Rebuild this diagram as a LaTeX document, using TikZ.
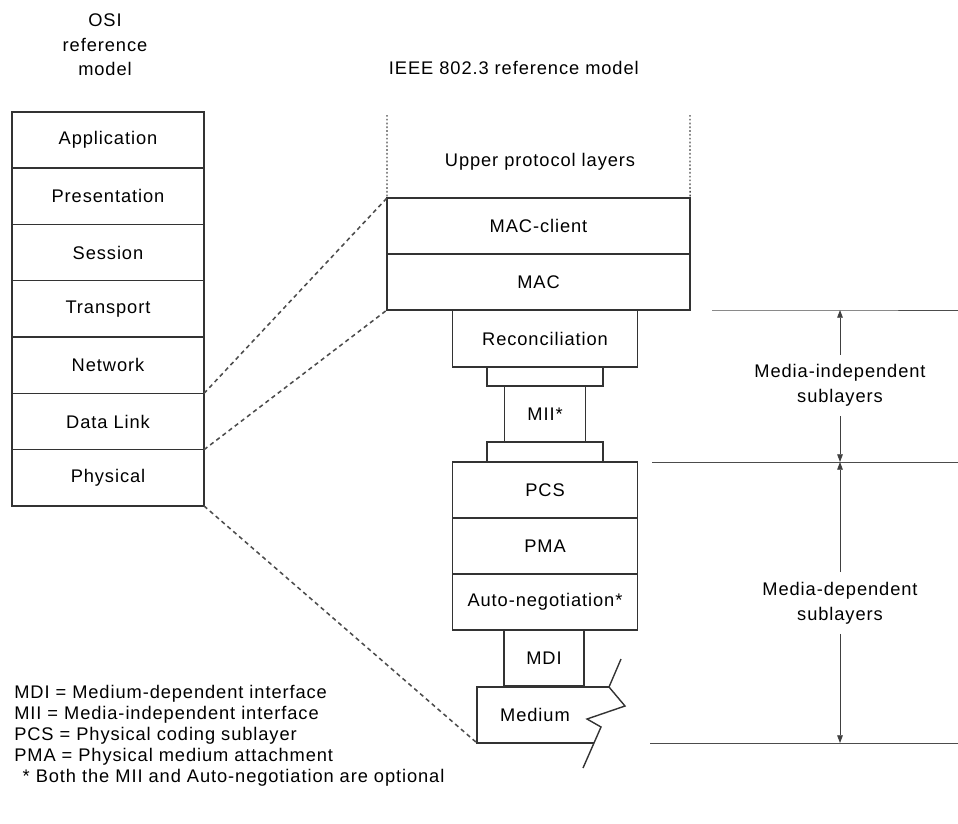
\documentclass[tikz,border=0pt]{standalone}
\usepackage{fontspec}
\setmainfont{Liberation Sans}[LetterSpace=5]
\usetikzlibrary{arrows.meta}

\tikzset{
  box/.style={draw=black!80, line width=1pt, inner sep=0pt, outer sep=0pt, minimum height=1.4cm},
  osi/.style={box, minimum width=4.8cm, minimum height=1.4075cm},
  wide/.style={box, minimum width=7.575cm},
  sub/.style={box, minimum width=4.625cm},
  thin/.style={box, minimum width=2cm},
  link/.style={box, minimum width=2.9cm, minimum height=0.49cm},
  map/.style={black!70, line width=1.1pt, dash pattern=on 3pt off 2.5pt},
  dots/.style={black!70, line width=1pt, dash pattern=on 1.2pt off 1.5pt},
  rule/.style={black!70, line width=0.6pt},
  arr/.style={black!75, line width=0.6pt, -{Triangle[length=5.5pt,width=4pt]}},
  lbl/.style={align=center, inner sep=7pt},
}

\begin{document}
\begin{tikzpicture}[x=0.025cm, y=-0.025cm, font=\fontsize{13}{17.5}\selectfont]
\useasboundingbox (0,0) rectangle (958,823);

% OSI model
\node[align=center] (osititle) at (105,45) {OSI\\reference\\model};
\node[osi] (app) at (108,140) {Application};
\node[osi] (pres) at (108,196.3) {Presentation};
\node[osi] (sess) at (108,252.6) {Session};
\node[osi] (trans) at (108,308.9) {Transport};
\node[osi] (net) at (108,365.2) {Network};
\node[osi] (dl) at (108,421.5) {Data Link};
\node[osi] (phys) at (108,477.8) {Physical};

% IEEE 802.3 model
\node[anchor=west] (ieeetitle) at (384,68) {IEEE 802.3 reference model};
\node (upper) at (540,162) {Upper protocol layers};
\node[wide] (macc) at (538.5,226) {MAC-client};
\node[wide] (mac) at (538.5,282) {MAC};
\coordinate (upl) at (387,115); % open top of upper layers
\coordinate (upr) at (690,115);
\draw[dots] (upl) -- (macc.north west);
\draw[dots] (upr) -- (macc.north east);

\node[sub, minimum height=1.425cm] (rec) at (545,338.5) {Reconciliation};
\node[link, minimum height=0.475cm] (linka) at (545,376.5) {}; % MII connector - top
\node[thin, minimum width=2.025cm] (mii) at (545,414) {MII*};
\node[link, minimum height=0.5cm] (linkb) at (545,452) {}; % MII connector - bottom
\node[sub] (pcs) at (545,490) {PCS};
\node[sub] (pma) at (545,546) {PMA};
\node[sub] (auto) at (545,602) {Auto-negotiation*};
\node[thin] (mdi) at (544,658) {MDI};

% Medium with broken right edge
\node (med) at (535,715) {Medium};
\coordinate (medtl) at (477,687);
\coordinate (medbl) at (477,743);
\draw[draw=black!80, line width=1pt] (609,687) -- (medtl) -- (medbl) -- (594,743);
\draw[draw=black!80, line width=1pt] (621,659) -- (609,687) -- (625,706) -- (587,719) -- (601,727) -- (583,768);

% OSI to IEEE mapping
\draw[map] (net.south east) -- (macc.north west);
\draw[map] (dl.south east) -- (mac.south west);
\draw[map] (phys.south east) -- (medbl);

% sublayer ranges
\coordinate (itop) at (840,310);
\coordinate (imid) at (840,462);
\coordinate (dbot) at (840,743);
\draw[rule] (712,310) -- (itop) -- (958,310);
\draw[rule] (652,462) -- (imid) -- (958,462);
\draw[rule] (650,743) -- (dbot) -- (958,743);

\node[lbl] (indep) at (840,385.5) {Media-independent\\sublayers};
\node[lbl] (dep) at (840,603) {Media-dependent\\sublayers};
\draw[arr] (indep.north) -- (itop);
\draw[arr] (indep.south) -- (imid);
\draw[arr] (dep.north) -- (imid);
\draw[arr] (dep.south) -- (dbot);

% abbreviations
\node[anchor=north west, align=left, inner sep=0pt, font=\fontsize{13}{14.9}\selectfont] (keys) at (14,685)
  {MDI = Medium-dependent interface\\
   MII = Media-independent interface\\
   PCS = Physical coding sublayer\\
   PMA = Physical medium attachment\\
   \hspace*{6pt}* Both the MII and Auto-negotiation are optional};

\end{tikzpicture}
\end{document}
